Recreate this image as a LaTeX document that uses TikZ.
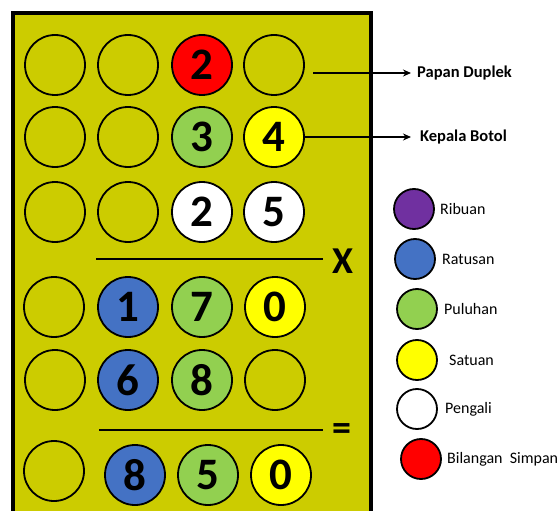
\documentclass[tikz,border=0pt]{standalone}
\usepackage{fontspec}
\setmainfont{Carlito}
\usetikzlibrary{arrows.meta}
\definecolor{board}{HTML}{CCCC00}
\definecolor{cred}{HTML}{FF0000}
\definecolor{cgreen}{HTML}{92D050}
\definecolor{cyellow}{HTML}{FFFF00}
\definecolor{cblue}{HTML}{4472C4}
\definecolor{cpurple}{HTML}{7030A0}
\tikzset{
  hole/.style={circle, draw=black, line width=1.8pt, minimum size=60pt, inner sep=0pt,
    font=\fontsize{45}{45}\selectfont\bfseries},
  leg/.style={circle, draw=black, line width=1.8pt, minimum size=40pt, inner sep=0pt},
  legtext/.style={anchor=west, inner sep=0pt, font=\fontsize{16}{16}\selectfont},
  tag/.style={anchor=west, inner sep=0pt, font=\fontsize{16.5}{17}\selectfont\bfseries},
  rule/.style={line width=2pt},
  pointer/.style={line width=1.6pt, -{Stealth[length=8pt,width=7pt]}}
}
\begin{document}
\begin{tikzpicture}[x=1pt,y=-1pt]
\useasboundingbox (0,0) rectangle (560,511);
\clip (0,0) rectangle (560,511);
\fill[white] (0,0) rectangle (560,511);
\draw[line width=4pt, fill=board] (13,13) rectangle (371,540);
% row 1
\node[hole] (a1) at (55,65) {};
\node[hole] (a2) at (128,65) {};
\node[hole, fill=cred] (a3) at (202,65) {2};
\node[hole] (a4) at (274,65) {};
% row 2
\node[hole] (b1) at (55,137) {};
\node[hole] (b2) at (128,137) {};
\node[hole, fill=cgreen] (b3) at (202,137) {3};
\node[hole, fill=cyellow] (b4) at (274,137) {4};
% row 3
\node[hole] (c1) at (55,212) {};
\node[hole] (c2) at (128,212) {};
\node[hole, fill=white] (c3) at (202,212) {2};
\node[hole, fill=white] (c4) at (274,212) {5};
% line and X
\coordinate (l1a) at (96,259);
\coordinate (l1b) at (323,259);
\draw[rule] (l1a) -- (l1b);
\node[inner sep=0pt, font=\fontsize{38}{38}\selectfont\bfseries] (times) at (343,261) {X};
% row 4
\node[hole] (d1) at (54,307) {};
\node[hole, fill=cblue] (d2) at (128,307) {1};
\node[hole, fill=cgreen] (d3) at (202,307) {7};
\node[hole, fill=cyellow] (d4) at (275,307) {0};
% row 5
\node[hole] (e1) at (55,380) {};
\node[hole, fill=cblue] (e2) at (128,380) {6};
\node[hole, fill=cgreen] (e3) at (202,380) {8};
\node[hole] (e4) at (275,380) {};
% line and =
\coordinate (l2a) at (99,430);
\coordinate (l2b) at (323,430);
\draw[rule] (l2a) -- (l2b);
\node[inner sep=0pt, font=\fontsize{38}{38}\selectfont\bfseries] (equals) at (342,432) {=};
% row 6
\node[hole] (f1) at (54,471) {};
\node[hole, fill=cblue] (f2) at (135,475) {8};
\node[hole, fill=cgreen] (f3) at (208,475) {5};
\node[hole, fill=cyellow] (f4) at (281,475) {0};
% annotations
\node[tag] (papan) at (417,73) {Papan Duplek};
\node[tag] (kepala) at (420,137) {Kepala Botol};
\coordinate (pstart) at (313,73);
\draw[pointer] (pstart) -- ([xshift=-6pt]papan.west);
\draw[pointer] (b4.east) -- ([xshift=-9pt]kepala.west);
% legend
\node[leg, fill=cpurple] (g1) at (414,209) {};
\node[legtext] (t1) at (440,209) {Ribuan};
\node[leg, fill=cblue] (g2) at (415,259) {};
\node[legtext] (t2) at (442,259) {Ratusan};
\node[leg, fill=cgreen] (g3) at (417,309) {};
\node[legtext] (t3) at (444,309) {Puluhan};
\node[leg, fill=cyellow] (g4) at (417,360) {};
\node[legtext] (t4) at (449,360) {Satuan};
\node[leg, fill=white] (g5) at (417,409) {};
\node[legtext] (t5) at (445,409) {Pengali};
\node[leg, fill=cred] (g6) at (421,459) {};
\node[legtext] (t6) at (447,459) {Bilangan\ \ Simpan};
\end{tikzpicture}
\end{document}
